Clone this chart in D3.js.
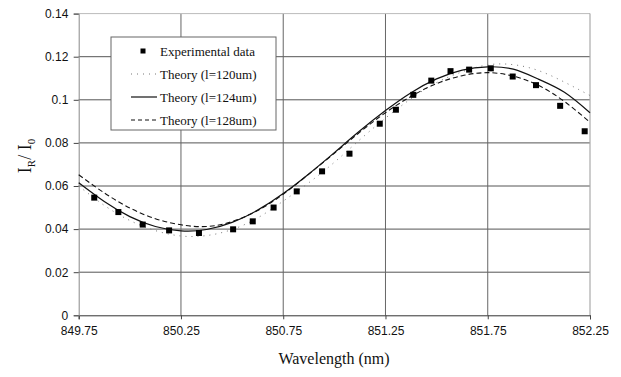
<!DOCTYPE html>
<html>
<head>
<meta charset="utf-8">
<script src="https://cdn.jsdelivr.net/npm/d3@7/dist/d3.min.js"></script>
<style>
  html, body { margin: 0; padding: 0; background: #fff; }
  svg { display: block; }
  .serif { font-family: "Liberation Serif", "Times New Roman", serif; }
  .sans { font-family: "Liberation Sans", Arial, sans-serif; }
</style>
</head>
<body>
<svg id="chart" width="621" height="377"></svg>
<script>
// ---- Data ----
const theoryWavelength = [849.75, 849.875, 850.0, 850.125, 850.25, 850.375, 850.5, 850.625, 850.75, 850.875,
  851.0, 851.125, 851.25, 851.375, 851.5, 851.625, 851.75, 851.875, 852.0, 852.125, 852.25];
const theory120 = [0.0600, 0.0510, 0.0440, 0.0393, 0.0368, 0.0370, 0.0398, 0.0452, 0.0530, 0.0615,
  0.0710, 0.0815, 0.0915, 0.1005, 0.1080, 0.1130, 0.1162, 0.1163, 0.1135, 0.1082, 0.1020];
const theory124 = [0.0615, 0.0528, 0.0458, 0.0412, 0.0392, 0.0398, 0.0431, 0.0488, 0.0565, 0.0656,
  0.0755, 0.0856, 0.0950, 0.1033, 0.1097, 0.1138, 0.1153, 0.1142, 0.1095, 0.1035, 0.0940];
const theory128 = [0.0652, 0.0568, 0.0498, 0.0448, 0.0420, 0.0412, 0.0435, 0.0486, 0.0562, 0.0655,
  0.0752, 0.0850, 0.0940, 0.1016, 0.1075, 0.1112, 0.1126, 0.1110, 0.1066, 0.0992, 0.0896];
const expWavelength = [849.826, 849.944, 850.063, 850.192, 850.338, 850.505, 850.601, 850.703, 850.816, 850.940,
  851.074, 851.222, 851.301, 851.386, 851.474, 851.568, 851.659, 851.765, 851.872, 851.986, 852.104, 852.224];
const expValues = [0.0546, 0.0479, 0.0421, 0.0394, 0.0382, 0.0399, 0.0436, 0.0500, 0.0575, 0.0668,
  0.0750, 0.0889, 0.0954, 0.1023, 0.1089, 0.1133, 0.1140, 0.1146, 0.1108, 0.1068, 0.0972, 0.0854];
const xTicks = [849.75, 850.25, 850.75, 851.25, 851.75, 852.25];
const yTicks = [0, 0.02, 0.04, 0.06, 0.08, 0.1, 0.12, 0.14];
const legendLabels = ["Experimental data", "Theory (l=120um)", "Theory (l=124um)", "Theory (l=128um)"];

// ---- Layout ----
const svg = d3.select("#chart");
const L = 78.7, R = 590, T = 13.6, B = 315.3;
const x = d3.scaleLinear().domain([849.75, 852.25]).range([L, R]);
const y = d3.scaleLinear().domain([0, 0.14]).range([B, T]);

// gridlines
const g = svg.append("g");
g.selectAll(".hg").data(yTicks.filter(v => v > 0 && v < 0.14)).enter().append("line")
  .attr("x1", L).attr("x2", R).attr("y1", d => y(d)).attr("y2", d => y(d))
  .attr("stroke", "#555").attr("stroke-width", 1);
g.selectAll(".vg").data(xTicks.slice(1, -1)).enter().append("line")
  .attr("x1", d => x(d)).attr("x2", d => x(d)).attr("y1", T).attr("y2", B)
  .attr("stroke", "#666").attr("stroke-width", 1);
g.append("line").attr("x1", L).attr("x2", R).attr("y1", T).attr("y2", T)
  .attr("stroke", "#bbb").attr("stroke-width", 1);
g.append("line").attr("x1", R).attr("x2", R).attr("y1", T).attr("y2", B)
  .attr("stroke", "#aaa").attr("stroke-width", 1.2);

// axes
const xAxis = d3.axisBottom(x).tickValues(xTicks).tickSize(4).tickFormat(d3.format(".2f"));
const yAxis = d3.axisLeft(y).tickValues(yTicks).tickSize(5).tickFormat(d => d === 0 ? "0" : String(+d.toFixed(2)));
const gx = svg.append("g").attr("transform", `translate(0,${B})`).call(xAxis);
const gy = svg.append("g").attr("transform", `translate(${L},0)`).call(yAxis);
gx.attr("font-family", null).attr("font-size", null);
gy.attr("font-family", null).attr("font-size", null);
gx.select(".domain").attr("stroke", "#333");
gy.select(".domain").attr("stroke", "#888");
gx.selectAll(".tick line").attr("stroke", "#444");
gy.selectAll(".tick line").attr("stroke", "#444");
[gx, gy].forEach(a => a.selectAll("text").attr("class", "sans")
  .attr("font-size", 12).attr("fill", "#111"));
gx.selectAll("text").attr("dy", "1.05em");
gy.selectAll("text").attr("dx", "-0.2em");

// lines
const line = d3.line().x(d => x(d[0])).y(d => y(d[1])).curve(d3.curveNatural);
const zip = vals => theoryWavelength.map((w, i) => [w, vals[i]]);
const plot = svg.append("g");
plot.append("path").datum(zip(theory120)).attr("d", line)
  .attr("fill", "none").attr("stroke", "#777").attr("stroke-width", 1).attr("stroke-dasharray", "1,5");
plot.append("path").datum(zip(theory124)).attr("d", line)
  .attr("fill", "none").attr("stroke", "#111").attr("stroke-width", 1.2);
plot.append("path").datum(zip(theory128)).attr("d", line)
  .attr("fill", "none").attr("stroke", "#111").attr("stroke-width", 1.1).attr("stroke-dasharray", "5,3");

// points
const ms = 6;
plot.selectAll(".pt").data(expWavelength.map((w, i) => [w, expValues[i]])).enter().append("rect")
  .attr("x", d => x(d[0]) - ms / 2).attr("y", d => y(d[1]) - ms / 2)
  .attr("width", ms).attr("height", ms).attr("fill", "#000");

// axis titles
svg.append("text").attr("class", "serif").attr("x", 334).attr("y", 364).attr("text-anchor", "middle")
  .attr("font-size", 16).attr("fill", "#111")
  .text("Wavelength (nm)");
const yt = svg.append("text").attr("class", "serif").attr("transform", "translate(31,156) rotate(-90)")
  .attr("text-anchor", "middle").attr("font-size", 18).attr("fill", "#111");
yt.append("tspan").text("I");
yt.append("tspan").attr("font-size", 11).attr("dy", 4).text("R");
yt.append("tspan").attr("dy", -4).text("/ I");
yt.append("tspan").attr("font-size", 11).attr("dy", 4).text("0");

// legend
const lg = svg.append("g");
lg.append("rect").attr("x", 111).attr("y", 37).attr("width", 165).attr("height", 93)
  .attr("fill", "#fff").attr("stroke", "#666").attr("stroke-width", 1);
const rowY = [51, 74, 97, 120];
const styles = [null, {c: "#777", w: 1, da: "1,5"}, {c: "#111", w: 1.2, da: null}, {c: "#111", w: 1.1, da: "4,3"}];
legendLabels.forEach((lab, i) => {
  const yy = rowY[i];
  if (i === 0) {
    lg.append("rect").attr("x", 143 - 2.5).attr("y", yy - 2.5).attr("width", 5).attr("height", 5).attr("fill", "#000");
  } else {
    const s = styles[i];
    const ln = lg.append("line").attr("x1", 131).attr("x2", 157).attr("y1", yy).attr("y2", yy)
      .attr("stroke", s.c).attr("stroke-width", s.w);
    if (s.da) ln.attr("stroke-dasharray", s.da);
  }
  lg.append("text").attr("class", "serif").attr("x", 160).attr("y", yy + 4.5)
    .attr("font-size", 13).attr("fill", "#111")
    .text(lab);
});
</script>
</body>
</html>
